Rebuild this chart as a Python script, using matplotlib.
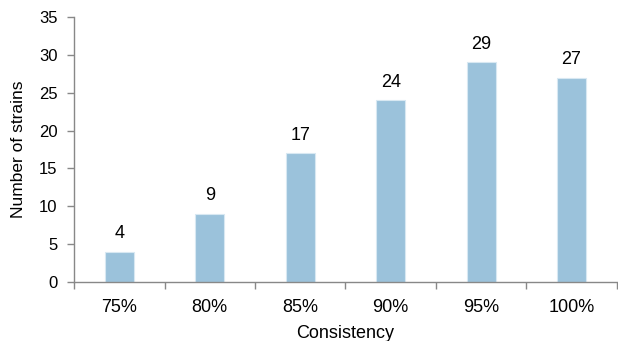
import matplotlib.pyplot as plt
import numpy as np

# data
categories = ['75%', '80%', '85%', '90%', '95%', '100%']
strains = [4, 9, 17, 24, 29, 27]

plt.rcParams['font.family'] = ['Liberation Sans', 'DejaVu Sans']

fig = plt.figure(figsize=(6.18, 3.41), dpi=100)
ax = fig.add_axes([0.12, 0.173, 0.878, 0.777])

x = np.arange(len(categories))
bars = ax.bar(x, strains, width=0.32, color='#9bc2db', edgecolor='#d8e8f2', linewidth=0.8)

for xi, v in zip(x, strains):
    ax.annotate(str(v), (xi, v), xytext=(0, 7), textcoords='offset points',
                ha='center', va='bottom', fontsize=13)

ax.set_xlim(-0.5, len(categories) - 0.5)
ax.set_ylim(0, 35)
ax.set_yticks(range(0, 36, 5))
ax.tick_params(axis='y', labelsize=12, length=5, color='#888888', width=1, pad=7)

# category labels centered, tick marks at the boundaries
ax.set_xticks(np.arange(-0.5, len(categories), 1))
ax.set_xticklabels([])
ax.set_xticks(x, minor=True)
ax.set_xticklabels(categories, minor=True, fontsize=13)
ax.tick_params(axis='x', which='major', length=5, color='#888888', width=1)
ax.tick_params(axis='x', which='minor', length=0, pad=12)

for s in ['top', 'right']:
    ax.spines[s].set_visible(False)
for s in ['left', 'bottom']:
    ax.spines[s].set_color('#888888')
    ax.spines[s].set_linewidth(1)

ax.set_xlabel('Consistency', fontsize=13, labelpad=7)
ax.set_ylabel('Number of strains', fontsize=12.5, labelpad=9)

fig.savefig('out.png', dpi=100)
